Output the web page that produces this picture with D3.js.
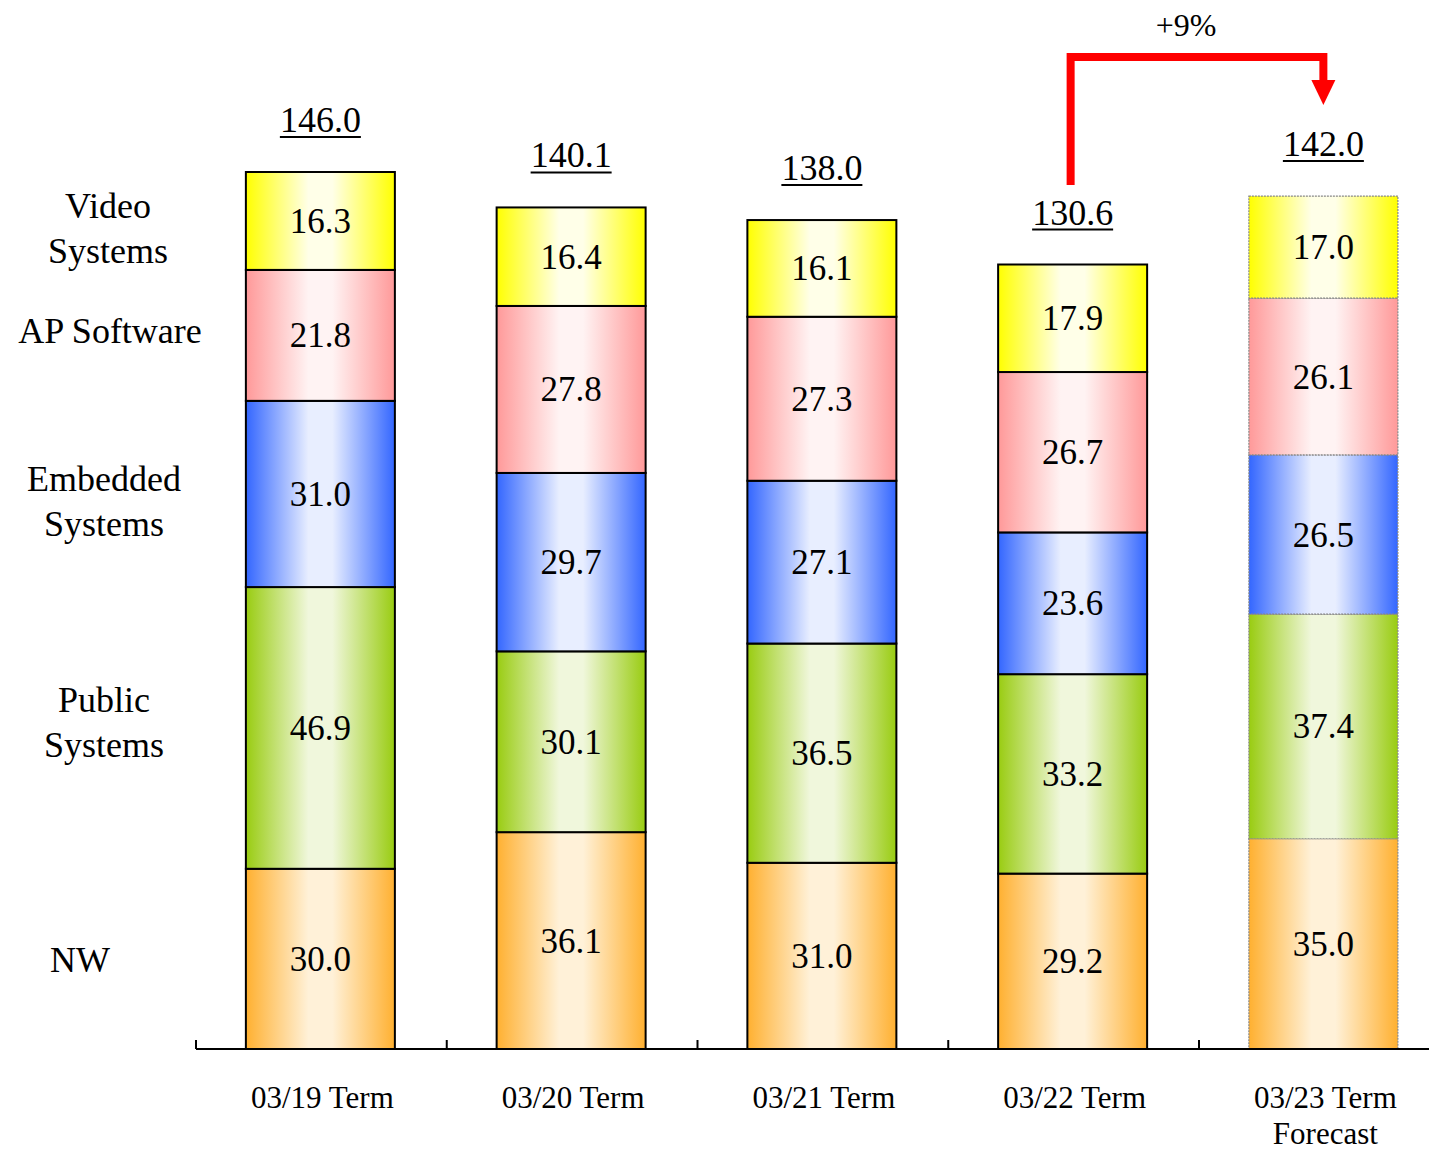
<!DOCTYPE html>
<html>
<head>
<meta charset="utf-8">
<script src="https://cdn.jsdelivr.net/npm/d3@7"></script>
<style>
  html, body { margin: 0; padding: 0; background: #fff; }
  svg { display: block; font-family: "Liberation Serif", "Times New Roman", serif; }
</style>
</head>
<body>
<svg id="chart" width="1429" height="1152"></svg>
<script>
// Sales by segment per fiscal term (stacked bottom to top)
const terms = ["03/19 Term", "03/20 Term", "03/21 Term", "03/22 Term", "03/23 Term"];
const termSub = ["", "", "", "", "Forecast"];
const segments = ["NW", "Public Systems", "Embedded Systems", "AP Software", "Video Systems"];
const nw        = [30.0, 36.1, 31.0, 29.2, 35.0];
const publicSys = [46.9, 30.1, 36.5, 33.2, 37.4];
const embedded  = [31.0, 29.7, 27.1, 23.6, 26.5];
const apSoft    = [21.8, 27.8, 27.3, 26.7, 26.1];
const video     = [16.3, 16.4, 16.1, 17.9, 17.0];
const totals    = [146.0, 140.1, 138.0, 130.6, 142.0];
const forecastIndex = 4;

const svg = d3.select("#chart");
const defs = svg.append("defs");

// Segment colours: saturated edge and pale centre of the cylinder-like fill
const palette = {
  "NW":               { edge: "#ffb030", mid: "#fff1d8" },
  "Public Systems":   { edge: "#99cc11", mid: "#f0f7dc" },
  "Embedded Systems": { edge: "#3366ff", mid: "#e8eeff" },
  "AP Software":      { edge: "#ff9999", mid: "#fff3f3" },
  "Video Systems":    { edge: "#ffff00", mid: "#ffffe8" }
};
segments.forEach((s, i) => {
  const g = defs.append("linearGradient")
    .attr("id", "grad" + i).attr("x1", "0%").attr("x2", "100%").attr("y1", "0%").attr("y2", "0%");
  [[0, palette[s].edge], [0.42, palette[s].mid], [0.58, palette[s].mid], [1, palette[s].edge]]
    .forEach(([o, c]) => g.append("stop").attr("offset", o).attr("stop-color", c));
});

const baseY = 1049;
const x = d3.scaleBand().domain(terms).range([196, 196 + 250.75 * terms.length]).padding(0);
const barW = 149;
const barX = t => x(t) + (x.step() - barW) / 2 - 1;
const y = d3.scaleLinear().domain([0, 146]).range([baseY, 172]);

const stackData = terms.map((t, i) => ({
  term: t,
  "NW": nw[i], "Public Systems": publicSys[i], "Embedded Systems": embedded[i],
  "AP Software": apSoft[i], "Video Systems": video[i]
}));
const series = d3.stack().keys(segments)(stackData);

const fmt = d3.format(".1f");

// Bars
series.forEach((ser, si) => {
  const g = svg.append("g");
  g.selectAll("rect").data(ser).join("rect")
    .attr("x", d => barX(d.data.term))
    .attr("y", d => y(d[1]))
    .attr("width", barW)
    .attr("height", d => y(d[0]) - y(d[1]))
    .attr("fill", `url(#grad${si})`)
    .attr("stroke", (d, i) => i === forecastIndex ? "#888" : "#000")
    .attr("stroke-width", (d, i) => i === forecastIndex ? 1.2 : 2)
    .attr("stroke-dasharray", (d, i) => i === forecastIndex ? "2,1" : null);
  g.selectAll("text").data(ser).join("text")
    .attr("x", d => barX(d.data.term) + barW / 2)
    .attr("y", d => (y(d[0]) + y(d[1])) / 2 + 12)
    .attr("text-anchor", "middle")
    .attr("font-size", 35)
    .attr("fill", "#000")
    .text(d => fmt(d[1] - d[0]));
});

// Totals, underlined
const tot = svg.append("g");
terms.forEach((t, i) => {
  const cx = barX(t) + barW / 2;
  const by = y(totals[i]) - 40;
  const txt = tot.append("text")
    .attr("x", cx).attr("y", by)
    .attr("text-anchor", "middle").attr("font-size", 36)
    .text(fmt(totals[i]));
  const w = txt.node().getComputedTextLength();
  tot.append("line")
    .attr("x1", cx - w / 2).attr("x2", cx + w / 2)
    .attr("y1", by + 5).attr("y2", by + 5)
    .attr("stroke", "#000").attr("stroke-width", 2);
});

// Baseline axis with upward ticks at category boundaries
const ax = svg.append("g");
ax.append("line").attr("x1", 196).attr("x2", 1429).attr("y1", baseY).attr("y2", baseY)
  .attr("stroke", "#000").attr("stroke-width", 2);
ax.selectAll("line.tick").data(terms).join("line").attr("class", "tick")
  .attr("x1", d => x(d)).attr("x2", d => x(d))
  .attr("y1", baseY).attr("y2", baseY - 9)
  .attr("stroke", "#000").attr("stroke-width", 2);

// Category labels
const cat = svg.append("g").attr("font-size", 31).attr("text-anchor", "middle");
terms.forEach((t, i) => {
  const cx = barX(t) + barW / 2 + 2;
  cat.append("text").attr("x", cx).attr("y", 1108).text(t);
  if (termSub[i]) cat.append("text").attr("x", cx).attr("y", 1144).text(termSub[i]);
});

// Segment names beside the first column
const nameX = { "NW": 80, "Public Systems": 104, "Embedded Systems": 104, "AP Software": 110, "Video Systems": 108 };
const nameDy = { "NW": 1, "Public Systems": -5, "Embedded Systems": 8, "AP Software": -4, "Video Systems": 8 };
const names = svg.append("g").attr("font-size", 36).attr("text-anchor", "middle");
series.forEach(ser => {
  const d = ser[0];
  const cy = (y(d[0]) + y(d[1])) / 2 + nameDy[ser.key];
  const key = ser.key;
  const lines = key === "NW" || key === "AP Software" ? [key] : key.split(" ");
  const lh = 45;
  lines.forEach((ln, li) => {
    names.append("text")
      .attr("x", nameX[key])
      .attr("y", cy + 12 + (li - (lines.length - 1) / 2) * lh)
      .text(ln);
  });
});

// Growth arrow from the last actual term to the forecast
const fromI = 3, toI = 4;
const fx = barX(terms[fromI]) + barW / 2 - 2;
const tx = barX(terms[toI]) + barW / 2;
const topY = 57;
svg.append("path")
  .attr("d", `M${fx},${185} V${topY} H${tx} V${82}`)
  .attr("fill", "none").attr("stroke", "#ff0000").attr("stroke-width", 8)
  .attr("stroke-linejoin", "miter");
svg.append("path")
  .attr("d", `M${tx - 12},${80} L${tx + 12},${80} L${tx},${105} Z`)
  .attr("fill", "#ff0000");
const growth = Math.round((totals[toI] / totals[fromI] - 1) * 100);
svg.append("text")
  .attr("x", (fx + tx) / 2 - 11).attr("y", 36)
  .attr("text-anchor", "middle").attr("font-size", 32)
  .text((growth >= 0 ? "+" : "") + growth + "%");
</script>
</body>
</html>
